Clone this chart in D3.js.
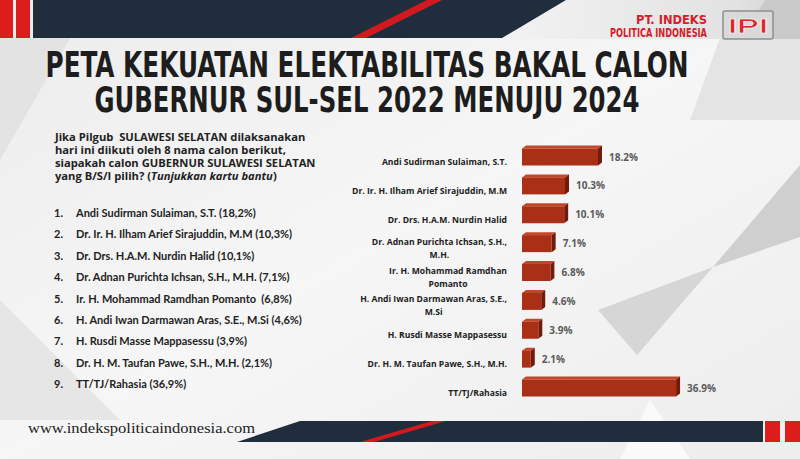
<!DOCTYPE html>
<html>
<head>
<meta charset="utf-8">
<script src="https://cdn.jsdelivr.net/npm/d3@7"></script>
<style>
  html, body { margin: 0; padding: 0; background: #f1f1f1; }
  svg { display: block; }
</style>
</head>
<body>
<svg id="svg" width="800" height="459"></svg>
<script>
// chart data
const categories = [
  "Andi Sudirman Sulaiman, S.T.",
  "Dr. Ir. H. Ilham Arief Sirajuddin, M.M",
  "Dr. Drs. H.A.M. Nurdin Halid",
  "Dr. Adnan Purichta Ichsan, S.H., M.H.",
  "Ir. H. Mohammad Ramdhan Pomanto",
  "H. Andi Iwan Darmawan Aras, S.E., M.Si",
  "H. Rusdi Masse Mappasessu",
  "Dr. H. M. Taufan Pawe, S.H., M.H.",
  "TT/TJ/Rahasia"
];
const values = [18.2, 10.3, 10.1, 7.1, 6.8, 4.6, 3.9, 2.1, 36.9];
// how the category labels wrap on the chart
const labelLines = [
  ["Andi Sudirman Sulaiman, S.T."],
  ["Dr. Ir. H. Ilham Arief Sirajuddin, M.M"],
  ["Dr. Drs. H.A.M. Nurdin Halid"],
  ["Dr. Adnan Purichta Ichsan, S.H.,", "M.H."],
  ["Ir. H. Mohammad Ramdhan", "Pomanto"],
  ["H. Andi Iwan Darmawan Aras, S.E.,", "M.Si"],
  ["H. Rusdi Masse Mappasessu"],
  ["Dr. H. M. Taufan Pawe, S.H., M.H."],
  ["TT/TJ/Rahasia"]
];
const listItems = [
  "Andi Sudirman Sulaiman, S.T. (18,2%)",
  "Dr. Ir. H. Ilham Arief Sirajuddin, M.M (10,3%)",
  "Dr. Drs. H.A.M. Nurdin Halid (10,1%)",
  "Dr. Adnan Purichta Ichsan, S.H., M.H. (7,1%)",
  "Ir. H. Mohammad Ramdhan Pomanto  (6,8%)",
  "H. Andi Iwan Darmawan Aras, S.E., M.Si (4,6%)",
  "H. Rusdi Masse Mappasessu (3,9%)",
  "Dr. H. M. Taufan Pawe, S.H., M.H. (2,1%)",
  "TT/TJ/Rahasia (36,9%)"
];
const titleLines = ["PETA KEKUATAN ELEKTABILITAS BAKAL CALON", "GUBERNUR SUL-SEL 2022 MENUJU 2024"];
const question = [
  "Jika Pilgub  SULAWESI SELATAN dilaksanakan",
  "hari ini diikuti oleh 8 nama calon berikut,",
  "siapakah calon GUBERNUR SULAWESI SELATAN"
];

const condensed = "'DejaVu Sans Condensed', 'Liberation Sans Narrow', 'DejaVu Sans', sans-serif";

const svg = d3.select("#svg");
const defs = svg.append("defs");

// background
const bg = defs.append("linearGradient").attr("id", "bg").attr("x1", 0).attr("y1", 0).attr("x2", 1).attr("y2", 1);
bg.append("stop").attr("offset", "0%").attr("stop-color", "#ececec");
bg.append("stop").attr("offset", "50%").attr("stop-color", "#f6f6f6");
bg.append("stop").attr("offset", "100%").attr("stop-color", "#ededed");
svg.append("rect").attr("width", 800).attr("height", 459).attr("fill", "url(#bg)");

// faint geometric shapes
const shapes = [
  {p: [[0, 38], [70, 38], [0, 160]], c: "#e3e3e3"},
  {p: [[720, 38], [800, 38], [800, 120], [690, 120]], c: "#e4e4e4"},
  {p: [[800, 165], [800, 237], [713, 267]], c: "#cfcfcf"},
  {p: [[713, 267], [598, 310], [637, 355]], c: "#d6d6d6"},
  {p: [[0, 300], [120, 420], [0, 420]], c: "#e6e6e6"},
  {p: [[620, 459], [650, 400], [690, 459]], c: "#fafafa"}
];
svg.selectAll("polygon.bgshape").data(shapes).join("polygon")
  .attr("class", "bgshape")
  .attr("points", d => d.p.join(" "))
  .attr("fill", d => d.c);

// header band
const hg = defs.append("linearGradient").attr("id", "hg").attr("x1", 0).attr("x2", 1);
hg.append("stop").attr("offset", "0%").attr("stop-color", "#f4f4f4");
hg.append("stop").attr("offset", "80%").attr("stop-color", "#e2e2e2");
hg.append("stop").attr("offset", "100%").attr("stop-color", "#d0d0d0");
svg.append("rect").attr("x", 480).attr("y", 0).attr("width", 320).attr("height", 39).attr("fill", "url(#hg)");
svg.append("polygon").attr("points", "765,0 800,0 800,39 742,39").attr("fill", "#c9c9c9");
svg.append("polygon").attr("points", "33,0 566,0 502,38 33,38").attr("fill", "#1f2d3c");
svg.append("polygon").attr("points", "427,0 442,0 366,38 351,38").attr("fill", "#d3181e");
svg.append("rect").attr("x", 0).attr("y", 0).attr("width", 13).attr("height", 38).attr("fill", "#dd1c1c");
svg.append("rect").attr("x", 16).attr("y", 0).attr("width", 14).attr("height", 38).attr("fill", "#dd1c1c");

// logo
svg.append("text").attr("x", 707).attr("y", 24)
  .attr("text-anchor", "end")
  .attr("font-family", condensed).attr("font-weight", "bold").attr("font-size", 12)
  .attr("textLength", 71).attr("lengthAdjust", "spacingAndGlyphs")
  .attr("fill", "#d4202a").text("PT. INDEKS");
svg.append("text").attr("x", 707).attr("y", 36.5)
  .attr("text-anchor", "end")
  .attr("font-family", condensed).attr("font-weight", "bold").attr("font-size", 12)
  .attr("textLength", 97).attr("lengthAdjust", "spacingAndGlyphs")
  .attr("fill", "#d4202a").text("POLITICA INDONESIA");
svg.append("rect").attr("x", 723).attr("y", 11).attr("width", 50).attr("height", 28).attr("rx", 2)
  .attr("fill", "#d9d9d9").attr("stroke", "#8f8f8f").attr("stroke-width", 1.5);
svg.append("text").attr("x", 748).attr("y", 33)
  .attr("text-anchor", "middle")
  .attr("font-family", "Liberation Sans").attr("font-weight", "bold").attr("font-size", 20)
  .attr("textLength", 40).attr("lengthAdjust", "spacingAndGlyphs")
  .attr("fill", "#e0242b").attr("stroke", "#fff").attr("stroke-width", 0.6)
  .text("IPI");

// title
const titleW = [643, 545];
svg.selectAll("text.title").data(titleLines).join("text")
  .attr("class", "title")
  .attr("x", 367).attr("y", (d, i) => 77 + i * 35)
  .attr("text-anchor", "middle")
  .attr("font-family", condensed).attr("font-weight", "bold").attr("font-size", 35)
  .attr("textLength", (d, i) => titleW[i]).attr("lengthAdjust", "spacingAndGlyphs")
  .attr("fill", "#1d1d1d")
  .text(d => d);

// question text
const qg = svg.append("g")
  .attr("font-family", "Open Sans").attr("font-weight", "bold").attr("font-size", 11.2)
  .attr("fill", "#222");
question.forEach((q, i) => {
  qg.append("text").attr("x", 55).attr("y", 141 + i * 13).attr("xml:space", "preserve").text(q);
});
const last = qg.append("text").attr("x", 55).attr("y", 141 + 3 * 13);
last.append("tspan").text("yang B/S/I pilih? (");
last.append("tspan").attr("font-style", "italic").text("Tunjukkan kartu bantu");
last.append("tspan").text(")");

// numbered list
const listY = d3.scalePoint().domain(d3.range(listItems.length)).range([213, 384]);
const lg = svg.append("g")
  .attr("font-family", "Lato").attr("font-weight", "bold").attr("font-size", 11)
  .attr("fill", "#222");
lg.selectAll("text.num").data(listItems).join("text")
  .attr("class", "num")
  .attr("x", 54).attr("y", (d, i) => listY(i) + 4)
  .text((d, i) => (i + 1) + ".");
lg.selectAll("text.item").data(listItems).join("text")
  .attr("class", "item")
  .attr("x", 76).attr("y", (d, i) => listY(i) + 4)
  .attr("xml:space", "preserve")
  .text(d => d);

// bar chart
const x = d3.scaleLinear().domain([0, 40]).range([522, 689]);
const y = d3.scalePoint().domain(categories).range([157, 388]);
const barH = 17, dep = 4, rise = 3;

const data = categories.map((c, i) => ({c, v: values[i], lines: labelLines[i]}));
const bars = svg.append("g").selectAll("g").data(data).join("g");

// top face
bars.append("polygon")
  .attr("points", d => {
    const x0 = x(0), x1 = x(d.v), y0 = y(d.c) - barH / 2;
    return [[x0, y0], [x0 + dep, y0 - rise], [x1 + dep, y0 - rise], [x1, y0]].join(" ");
  })
  .attr("fill", "#c4462a");
// side face
bars.append("polygon")
  .attr("points", d => {
    const x1 = x(d.v), y0 = y(d.c) - barH / 2;
    return [[x1, y0], [x1 + dep, y0 - rise], [x1 + dep, y0 + barH - rise], [x1, y0 + barH]].join(" ");
  })
  .attr("fill", "#741a0c");
// front face
bars.append("rect")
  .attr("x", x(0))
  .attr("y", d => y(d.c) - barH / 2)
  .attr("width", d => x(d.v) - x(0))
  .attr("height", barH)
  .attr("fill", "#a92f17");

// value labels
bars.append("text")
  .attr("x", d => x(d.v) + dep + 7)
  .attr("y", d => y(d.c) + 3.5)
  .attr("font-family", "Open Sans").attr("font-weight", "bold").attr("font-size", 10)
  .attr("fill", "#5a5a5a")
  .text(d => d3.format(".1f")(d.v) + "%");

// category labels
const labG = svg.append("g")
  .attr("font-family", "Open Sans").attr("font-weight", "bold").attr("font-size", 8.6)
  .attr("fill", "#222");
data.forEach(d => {
  const cy = y(d.c) + 5;
  if (d.lines.length === 1) {
    labG.append("text").attr("x", 507).attr("y", cy + 3)
      .attr("text-anchor", "end").text(d.lines[0]);
  } else {
    const t1 = labG.append("text").attr("x", 507).attr("y", cy - 4)
      .attr("text-anchor", "end").text(d.lines[0]);
    const w = t1.node().getComputedTextLength();
    labG.append("text").attr("x", 507 - w / 2).attr("y", cy + 9)
      .attr("text-anchor", "middle").text(d.lines[1]);
  }
});

// footer
svg.append("polygon").attr("points", "300,421 763,421 763,442 237,442").attr("fill", "#1f2d3c");
svg.append("polygon").attr("points", "432,421 446,421 374,442 360,442").attr("fill", "#d3181e");
svg.append("rect").attr("x", 765).attr("y", 421).attr("width", 15).attr("height", 21).attr("fill", "#dd1c1c");
svg.append("rect").attr("x", 785).attr("y", 421).attr("width", 15).attr("height", 21).attr("fill", "#dd1c1c");
svg.append("text").attr("x", 28).attr("y", 433)
  .attr("font-family", "Liberation Serif").attr("font-size", 15)
  .attr("textLength", 227).attr("lengthAdjust", "spacingAndGlyphs")
  .attr("fill", "#222")
  .text("www.indekspoliticaindonesia.com");
</script>
</body>
</html>
